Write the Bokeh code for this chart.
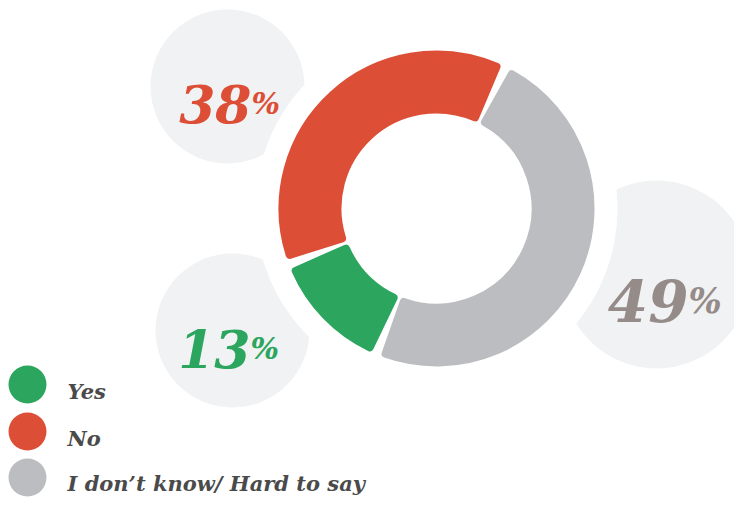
import numpy as np
from bokeh.plotting import figure
from bokeh.models import Range1d, ColumnDataSource
from bokeh.core.properties import value
from bokeh.embed import file_html
from bokeh.resources import INLINE

# ---- data ----
categories = ["Yes", "No", "I don\u2019t know/ Hard to say"]
percents = [13, 38, 49]
slice_colors = ["#2ca55e", "#dd4e36", "#bcbdc1"]
label_colors = ["#2ca55e", "#dd4e36", "#958b88"]

# ---- layout (reference pixel coordinates, y measured downward) ----
PW, PH = 734, 499
CX, CY = 436, 208
R_IN, R_OUT = 95, 158
HALO = 181
START_CW = 202.5          # degrees clockwise from 12 o'clock where first slice starts
STROKE = 8                # rounded-corner stroke
GAP = 6                   # white gap between slices (px)
bubble_x = [232, 227, 656]
bubble_y = [330, 86, 274]
bubble_r = [77, 77, 94]
label_split_x = [250, 251, 688]
label_base_y = [348, 103, 300]
label_num_size = ["52px", "52px", "58px"]
label_pct_size = ["30px", "30px", "35px"]
legend_x, legend_text_x = 27, 67
legend_y = [384, 431, 477]
legend_base_y = [391, 438, 483]
BUBBLE_COLOR = "#f1f2f4"
LEGEND_TEXT = "#4a4a4a"
FONT = value("DejaVu Serif")


def fy(y):
    return -y


p = figure(width=PW, height=PH, output_backend="svg",
           toolbar_location=None, x_range=Range1d(0, PW),
           y_range=Range1d(-PH, 0), min_border=0)
p.axis.visible = False
p.grid.visible = False
p.outline_line_color = None
p.background_fill_color = "white"

# background bubbles
p.circle(x=bubble_x, y=[fy(v) for v in bubble_y], radius=bubble_r,
         fill_color=BUBBLE_COLOR, line_color=None)
# white halo around the donut
p.circle(x=[CX], y=[fy(CY)], radius=[HALO], fill_color="white", line_color=None)

# donut slices
vals = np.array(percents, dtype=float) / sum(percents) * 360.0
th_start = START_CW + np.concatenate([[0.0], np.cumsum(vals)[:-1]])
th_end = th_start + vals
r_mid = (R_IN + R_OUT) / 2.0
shrink = (GAP / 2.0 + STROKE / 2.0) / r_mid
start_angle = np.radians(90.0 - th_start) - shrink
end_angle = np.radians(90.0 - th_end) + shrink
src = ColumnDataSource(dict(x=[CX] * 3, y=[fy(CY)] * 3,
                            start=start_angle, end=end_angle, color=slice_colors))
p.annular_wedge(x="x", y="y", inner_radius=R_IN + STROKE / 2,
                outer_radius=R_OUT - STROKE / 2, start_angle="start",
                end_angle="end", direction="clock", fill_color="color",
                line_color="color", line_width=STROKE, line_join="round",
                source=src)

# percentage labels
lab = ColumnDataSource(dict(
    x=label_split_x, y=[fy(v) for v in label_base_y],
    num=[str(v) for v in percents], pct=["%"] * 3,
    color=label_colors, nsize=label_num_size, psize=label_pct_size))
p.text(x="x", y="y", text="num", text_color="color", text_font=FONT,
       text_font_style="bold italic", text_font_size="nsize",
       text_align="right", text_baseline="alphabetic", source=lab)
p.text(x="x", y="y", text="pct", text_color="color", text_font=FONT,
       text_font_style="bold italic", text_font_size="psize",
       text_align="left", text_baseline="alphabetic", source=lab)

# legend
p.scatter(x=[legend_x] * 3, y=[fy(v) for v in legend_y], size=38,
          marker="circle", fill_color=slice_colors, line_color=None)
p.text(x=[legend_text_x] * 3, y=[fy(v) for v in legend_base_y], text=categories,
       text_color=LEGEND_TEXT, text_font=FONT, text_font_style="bold italic",
       text_font_size="21px", text_align="left", text_baseline="alphabetic")

open("out.html", "w").write(file_html(p, INLINE))
